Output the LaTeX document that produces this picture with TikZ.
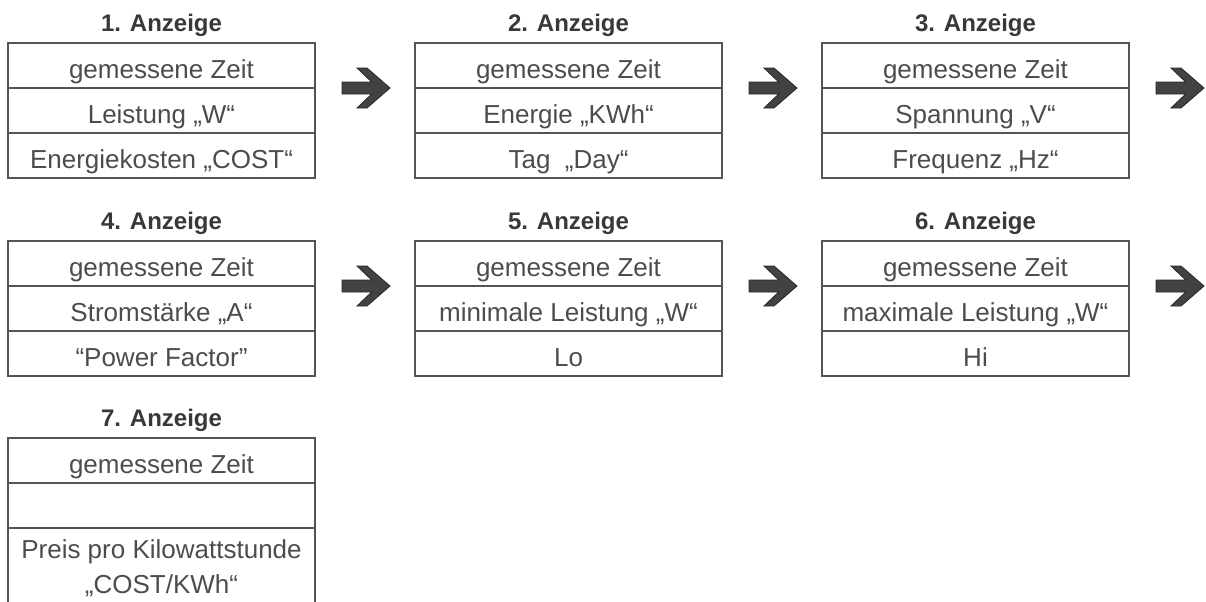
\documentclass[tikz,border=0pt]{standalone}
\usepackage{fontspec}
\setmainfont{Liberation Sans}
\usetikzlibrary{positioning, calc}
\definecolor{rahmengrau}{rgb}{0.33, 0.33, 0.33}
\definecolor{textgrau}{rgb}{0.30, 0.30, 0.30}
\definecolor{titelgrau}{rgb}{0.22, 0.22, 0.22}
\definecolor{pfeilgrau}{rgb}{0.26, 0.26, 0.26}

\begin{document}
\begin{tikzpicture}[
				x=0.5pt, y=-0.5pt,
				every node/.style={font=\fontsize{13}{17.5}\selectfont},
				feld/.style={draw=rahmengrau, line width=1pt, minimum width=153.5pt, minimum height=22.5pt, inner sep=0pt, outer sep=0pt, text=textgrau, align=center},
				zeile/.style={feld, text height=13.5pt, text depth=1pt},
				titel/.style={font=\fontsize{12}{14}\selectfont\bfseries, text=titelgrau, inner sep=0pt},
				weiter/.pic={
					\filldraw[fill=pfeilgrau, draw=black!85, line width=0.4pt, line join=miter]
					(-24,-6) -- (5.7,-6) -- (-9,-20) -- (1,-20) -- (24,0) -- (1,20) -- (-9,20) -- (5.7,6) -- (-24,6) -- cycle;
				}
			]
			\useasboundingbox (0,0) rectangle (1206,601);
			\clip (0,0) rectangle (1206,601);

			% First row: Anzeige 1 to 3
			\node[zeile] (zeit1) at (161.5,65.5) {gemessene Zeit};
			\node[zeile, below=0pt of zeit1] (wert1) {Leistung „W“};
			\node[zeile, below=0pt of wert1] (info1) {Energiekosten „COST“};
			\node[titel, above=3pt of zeit1] (kopf1) {1. Anzeige};

			\node[zeile] (zeit2) at (568.5,65.5) {gemessene Zeit};
			\node[zeile, below=0pt of zeit2] (wert2) {Energie „KWh“};
			\node[zeile, below=0pt of wert2] (info2) {Tag\ \ „Day“};
			\node[titel, above=3pt of zeit2] (kopf2) {2. Anzeige};

			\node[zeile] (zeit3) at (975.5,65.5) {gemessene Zeit};
			\node[zeile, below=0pt of zeit3] (wert3) {Spannung „V“};
			\node[zeile, below=0pt of wert3] (info3) {Frequenz „Hz“};
			\node[titel, above=3pt of zeit3] (kopf3) {3. Anzeige};

			% Second row: Anzeige 4 to 6
			\node[zeile] (zeit4) at (161.5,263.5) {gemessene Zeit};
			\node[zeile, below=0pt of zeit4] (wert4) {Stromstärke „A“};
			\node[zeile, below=0pt of wert4] (info4) {“Power Factor”};
			\node[titel, above=3pt of zeit4] (kopf4) {4. Anzeige};

			\node[zeile] (zeit5) at (568.5,263.5) {gemessene Zeit};
			\node[zeile, below=0pt of zeit5] (wert5) {minimale Leistung „W“};
			\node[zeile, below=0pt of wert5] (info5) {Lo};
			\node[titel, above=3pt of zeit5] (kopf5) {5. Anzeige};

			\node[zeile] (zeit6) at (975.5,263.5) {gemessene Zeit};
			\node[zeile, below=0pt of zeit6] (wert6) {maximale Leistung „W“};
			\node[zeile, below=0pt of wert6] (info6) {Hi};
			\node[titel, above=3pt of zeit6] (kopf6) {6. Anzeige};

			% Last display, runs off the bottom edge
			\node[zeile] (zeit7) at (161.5,460.5) {gemessene Zeit};
			\node[zeile, below=0pt of zeit7] (wert7) {};
			\node[feld, minimum height=40pt, below=0pt of wert7] (info7) {Preis pro Kilowattstunde\\„COST/KWh“};
			\node[titel, above=3pt of zeit7] (kopf7) {7. Anzeige};

			% Next-display arrows
			\pic at ($(zeit1.south east)+(51,0)$) {weiter};
			\pic at ($(zeit2.south east)+(51,0)$) {weiter};
			\pic at ($(zeit3.south east)+(51,0)$) {weiter};
			\pic at ($(zeit4.south east)+(51,0)$) {weiter};
			\pic at ($(zeit5.south east)+(51,0)$) {weiter};
			\pic at ($(zeit6.south east)+(51,0)$) {weiter};

		\end{tikzpicture}
\end{document}
